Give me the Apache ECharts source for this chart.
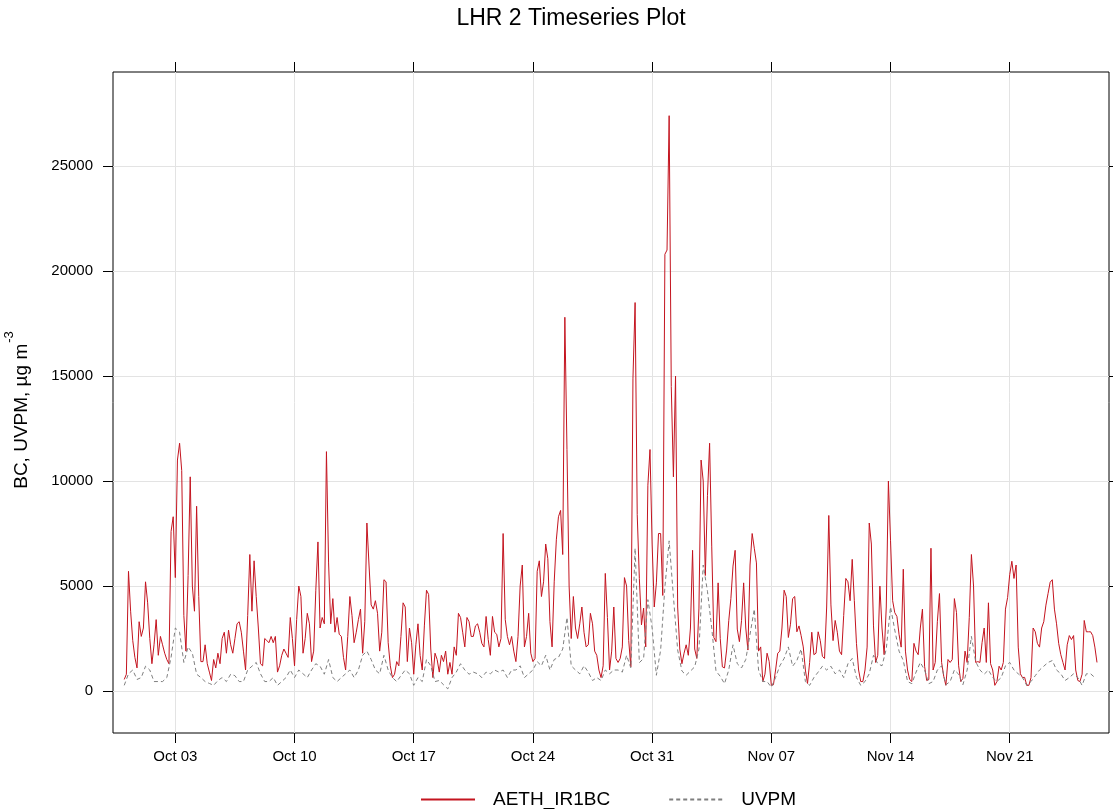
<!DOCTYPE html>
<html>
<head>
<meta charset="utf-8">
<title>LHR 2 Timeseries Plot</title>
<script src="https://cdn.jsdelivr.net/npm/echarts@6/dist/echarts.min.js"></script>
<style>
  html, body { margin: 0; padding: 0; background: #ffffff; }
  #chart { width: 1113px; height: 809px; }
</style>
</head>
<body>
<div id="chart"></div>
<script>
// x positions are measured in days from Oct 03 00:00
const xTickDays = [0, 7, 14, 21, 28, 35, 42, 49];
const xTickLabels = ['Oct 03', 'Oct 10', 'Oct 17', 'Oct 24', 'Oct 31', 'Nov 07', 'Nov 14', 'Nov 21'];
const yTicks = [0, 5000, 10000, 15000, 20000, 25000];

// AETH_IR1BC, 3-hourly readings from Sep 30 00:00 (8 per day)
const bcStartDay = -3;
const bcStepDays = 0.125;
const bcSepOct = [
  550, 800, 5700, 3800, 2400, 1600, 1100, 3300,       // Sep 30
  2600, 3000, 5200, 4200, 2500, 1300, 2200, 3400,     // Oct 01
  1700, 2600, 2200, 1800, 1500, 1300, 7600, 8300,     // Oct 02
  5400, 11000, 11800, 10500, 3600, 1900, 5500, 10200, // Oct 03
  5000, 3800, 8800, 4500, 1400, 1400, 2200, 1300,     // Oct 04
  900, 500, 1500, 1100, 1800, 1300, 2500, 2800,       // Oct 05
  1800, 2900, 2200, 1800, 2500, 3200, 3300, 2800,     // Oct 06
  1900, 1000, 3600, 6500, 3800, 6200, 4500, 3000,     // Oct 07
  1300, 1200, 2500, 2400, 2300, 2600, 2300, 2600,     // Oct 08
  900, 1200, 1700, 2000, 1800, 1600, 3500, 2500,      // Oct 09
  1200, 3400, 5000, 4500, 1800, 2500, 3700, 3200,     // Oct 10
  1400, 1900, 4800, 7100, 3000, 3500, 3200, 11400,    // Oct 11
  6100, 3200, 4400, 2800, 3500, 2700, 2600, 1600,     // Oct 12
  1000, 2600, 4500, 3600, 2300, 2800, 3400, 3900,     // Oct 13
  1800, 3300, 8000, 6000, 4100, 3900, 4300, 3700,     // Oct 14
  1900, 2800, 5300, 5200, 2300, 1200, 640, 800,       // Oct 15
  1400, 1200, 2600, 4200, 4000, 1400, 3000, 2300,     // Oct 16
  800, 2200, 3200, 1700, 1000, 3100, 4800, 4600,      // Oct 17
  2000, 640, 1800, 1500, 900, 1700, 1400, 1900,       // Oct 18
  800, 1360, 800, 2100, 1700, 3700, 3500, 2800,       // Oct 19
  2100, 3500, 3300, 2600, 2600, 3100, 3200, 2800,     // Oct 20
  2270, 2100, 3550, 2450, 1700, 3550, 2800, 2700,     // Oct 21
  2100, 2500, 7500, 3400, 2600, 2200, 2600, 1900,     // Oct 22
  1400, 2600, 5000, 6000, 2100, 2600, 3700, 1800,     // Oct 23
  1400, 1550, 5700, 6200, 4500, 5200, 7000, 6300,     // Oct 24
  3300, 2100, 5200, 7200, 8300, 8600, 6500, 17800,    // Oct 25
  11500, 5000, 2500, 4500, 3000, 2500, 3200, 4000,    // Oct 26
  2800, 2100, 2200, 3700, 3200, 1900, 1700, 1000,     // Oct 27
  640, 1200, 5600, 3500, 1000, 1900, 4000, 1550,      // Oct 28
  1360, 1550, 2100, 5400, 5000, 2400, 1150, 14900,    // Oct 29
  18500, 8400, 5350, 3150, 3950, 2100, 9800, 11500,   // Oct 30
  7000, 4000, 5150, 7500, 7500, 4550, 20800, 21000    // Oct 31
];
const bcNov = [
  27400, 14500, 10200, 15000, 4000, 2000, 1300, 1800, // Nov 01
  2200, 1700, 3000, 6700, 2000, 1550, 3950, 11000,    // Nov 02
  10000, 5500, 9300, 11800, 6900, 2550, 2350, 5150,   // Nov 03
  2500, 1150, 1100, 1950, 3350, 4400, 5950, 6700,     // Nov 04
  2950, 2350, 3350, 5150, 3000, 1950, 6000, 7500,     // Nov 05
  6800, 6100, 1900, 2100, 450, 800, 1800, 1400,       // Nov 06
  270, 300, 1000, 1800, 1900, 3000, 4800, 4500,       // Nov 07
  2550, 3180, 4400, 4500, 2820, 3100, 2640, 2100,     // Nov 08
  1000, 360, 1360, 2800, 1730, 1800, 2820, 2400,      // Nov 09
  1650, 1550, 4000, 8360, 4100, 2400, 3360, 2800,     // Nov 10
  1900, 1730, 3600, 5360, 5200, 4300, 6270, 4300,     // Nov 11
  2270, 1000, 450, 450, 1000, 2090, 8000, 7000,       // Nov 12
  3100, 1360, 1700, 5000, 3000, 1730, 4000, 10000,    // Nov 13
  7180, 4300, 3730, 3550, 2700, 2090, 5800, 1900,     // Nov 14
  1000, 550, 450, 2270, 1900, 1730, 3000, 3900,       // Nov 15
  1180, 500, 550, 6800, 1000, 1360, 3300, 4640,       // Nov 16
  1360, 700, 270, 1500, 1360, 1500, 4400, 3730,       // Nov 17
  1200, 450, 600, 1900, 1360, 3500, 6500, 5000,       // Nov 18
  1360, 1400, 1360, 2300, 3000, 1360, 4200, 1300,     // Nov 19
  1000, 270, 450, 1180, 1000, 1360, 3900, 4450,       // Nov 20
  5550, 6180, 5360, 6000, 2090, 820, 640, 650,        // Nov 21
  270, 270, 640, 3000, 2820, 2270, 2090, 3000,        // Nov 22
  3300, 4090, 4640, 5180, 5300, 3900, 3200, 2270,     // Nov 23
  1730, 1360, 1000, 2200, 2640, 2450, 2640, 1000,     // Nov 24
  500, 450, 800, 3360, 2820, 2820, 2820, 2640,        // Nov 25
  2090, 1360                                          // Nov 26
];

// UVPM, 6-hourly readings from Sep 30 00:00 (4 per day)
const uvpmStartDay = -3;
const uvpmStepDays = 0.25;
const uvpmSepOct = [
  270, 820, 1000, 550,    // Sep 30
  640, 1180, 1000, 450,   // Oct 01
  450, 450, 640, 1600,    // Oct 02
  3000, 2800, 1360, 2100, // Oct 03
  1800, 800, 640, 450,    // Oct 04
  360, 270, 500, 640,     // Oct 05
  450, 800, 730, 450,     // Oct 06
  450, 1000, 1180, 1360,  // Oct 07
  820, 450, 450, 640,     // Oct 08
  270, 450, 640, 1000,    // Oct 09
  640, 1000, 820, 640,    // Oct 10
  1000, 1300, 1180, 800,  // Oct 11
  1500, 640, 450, 640,    // Oct 12
  820, 1000, 640, 1000,   // Oct 13
  1700, 1900, 1500, 1000, // Oct 14
  820, 1700, 1000, 640,   // Oct 15
  450, 730, 1000, 820,    // Oct 16
  270, 640, 450, 1500,    // Oct 17
  1200, 450, 500, 300,    // Oct 18
  100, 640, 900, 1300,    // Oct 19
  1000, 800, 900, 820,    // Oct 20
  640, 900, 820, 1000,    // Oct 21
  900, 1000, 640, 1000,   // Oct 22
  1000, 1200, 640, 820,   // Oct 23
  1000, 1400, 1200, 1700, // Oct 24
  1000, 1500, 1600, 2000, // Oct 25
  3500, 1200, 1000, 820,  // Oct 26
  1200, 900, 500, 640,    // Oct 27
  500, 1000, 820, 1000,   // Oct 28
  1000, 900, 1700, 1100,  // Oct 29
  6800, 1350, 1550, 4350, // Oct 30
  3000, 750, 1950, 4950   // Oct 31
];
const uvpmNov = [
  7150, 4500, 1950, 950,  // Nov 01
  750, 950, 1150, 2000,   // Nov 02
  6000, 4750, 3000, 950,  // Nov 03
  700, 350, 1000, 2200,   // Nov 04
  1300, 1100, 1500, 2700, // Nov 05
  3900, 1000, 450, 450,   // Nov 06
  180, 640, 1200, 1550,   // Nov 07
  2100, 1180, 1450, 2000, // Nov 08
  450, 270, 640, 900,     // Nov 09
  1180, 1000, 1180, 820,  // Nov 10
  1000, 640, 1300, 1550,  // Nov 11
  640, 270, 450, 820,     // Nov 12
  1700, 1300, 1200, 2000, // Nov 13
  4000, 2900, 1900, 1450, // Nov 14
  450, 350, 900, 1360,    // Nov 15
  1000, 350, 450, 1000,   // Nov 16
  1200, 300, 450, 1000,   // Nov 17
  800, 300, 1000, 2600,   // Nov 18
  1400, 1000, 800, 1000,  // Nov 19
  640, 450, 640, 1200,    // Nov 20
  1360, 1000, 820, 640,   // Nov 21
  270, 450, 730, 1000,    // Nov 22
  1180, 1360, 1450, 1000, // Nov 23
  820, 500, 640, 820,     // Nov 24
  640, 270, 820, 820,     // Nov 25
  640                     // Nov 26
];

const FONT = '"Liberation Sans", Arial, Helvetica, sans-serif';
const RED = '#c4141f';
const GREY = '#7f7f7f';
const GRID = '#e3e3e3';

// pair each reading with its time (days from Oct 03)
function timed(values, startDay, stepDays) {
  return values.map(function (v, i) { return [startDay + i * stepDays, v]; });
}

const bcData = timed(bcSepOct.concat(bcNov), bcStartDay, bcStepDays);
const uvpmData = timed(uvpmSepOct.concat(uvpmNov), uvpmStartDay, uvpmStepDays);

const xRange = { min: -3.66, max: 54.83 };
const yRange = { min: -2000, max: 29480 };

function xLabel(v) {
  const i = xTickDays.indexOf(v);
  return i >= 0 ? xTickLabels[i] : '';
}

// outward black ticks on every side of the frame
function ticks(values) {
  return { show: true, inside: false, length: 10, customValues: values,
           lineStyle: { color: '#000000', width: 1 } };
}

const chart = echarts.init(document.getElementById('chart'), null, { renderer: 'canvas' });

chart.setOption({
  animation: false,
  backgroundColor: '#ffffff',
  grid: {
    left: 113, top: 72, width: 996, height: 661,
    show: true, borderColor: '#000000', borderWidth: 1,
    backgroundColor: 'transparent'
  },
  xAxis: [
    {
      type: 'value', position: 'bottom',
      min: xRange.min, max: xRange.max,
      axisLine: { show: false, onZero: false },
      axisTick: ticks(xTickDays),
      axisLabel: { show: true, margin: 16, color: '#000000', fontSize: 15,
        fontFamily: FONT, customValues: xTickDays, formatter: xLabel },
      splitLine: { show: true, lineStyle: { color: GRID, width: 1 } }
    },
    {
      type: 'value', position: 'top',
      min: xRange.min, max: xRange.max,
      axisLine: { show: false, onZero: false },
      axisTick: ticks(xTickDays),
      axisLabel: { show: false },
      splitLine: { show: false }
    }
  ],
  yAxis: [
    {
      type: 'value', position: 'left',
      min: yRange.min, max: yRange.max,
      axisLine: { show: false, onZero: false },
      axisTick: ticks(yTicks),
      axisLabel: { show: true, margin: 20, color: '#000000', fontSize: 15,
        fontFamily: FONT, customValues: yTicks,
        formatter: function (v) { return String(v); } },
      splitLine: { show: true, lineStyle: { color: GRID, width: 1 } }
    },
    {
      type: 'value', position: 'right',
      min: yRange.min, max: yRange.max,
      axisLine: { show: false, onZero: false },
      axisTick: ticks(yTicks),
      axisLabel: { show: false },
      splitLine: { show: false }
    }
  ],
  legend: {
    left: 415, top: 785,
    orient: 'horizontal',
    itemWidth: 54, itemHeight: 20, itemGap: 58,
    itemStyle: { opacity: 0 },
    textStyle: { fontSize: 19, fontFamily: FONT, color: '#000000', padding: [0, 0, 0, 13] },
    data: ['AETH_IR1BC', 'UVPM']
  },
  graphic: [
    {
      type: 'text', x: 571, y: 19,
      style: {
        text: 'LHR 2 Timeseries Plot',
        fill: '#000000',
        font: '23px ' + FONT,
        align: 'center', verticalAlign: 'middle',
        textAlign: 'center', textVerticalAlign: 'middle'
      }
    },
    {
      type: 'text', x: 21.5, y: 410, rotation: Math.PI / 2,
      style: {
        text: '{b|BC, UVPM, µg m}{s|-3}',
        fill: '#000000',
        align: 'center', verticalAlign: 'middle',
        textAlign: 'center', textVerticalAlign: 'middle',
        rich: {
          b: { fontSize: 19, fontFamily: FONT, fill: '#000000' },
          s: { fontSize: 13, fontFamily: FONT, fill: '#000000',
               verticalAlign: 'top', padding: [0, 0, 24, 1] }
        }
      }
    }
  ],
  series: [
    {
      name: 'AETH_IR1BC', type: 'line',
      xAxisIndex: 0, yAxisIndex: 0,
      data: bcData,
      symbol: 'none', showSymbol: false,
      lineStyle: { color: RED, width: 1 },
      itemStyle: { color: RED },
      z: 3
    },
    {
      name: 'UVPM', type: 'line',
      xAxisIndex: 0, yAxisIndex: 0,
      data: uvpmData,
      symbol: 'none', showSymbol: false,
      lineStyle: { color: GREY, width: 1, type: [4, 3] },
      itemStyle: { color: GREY },
      z: 4
    }
  ]
});
</script>
</body>
</html>
